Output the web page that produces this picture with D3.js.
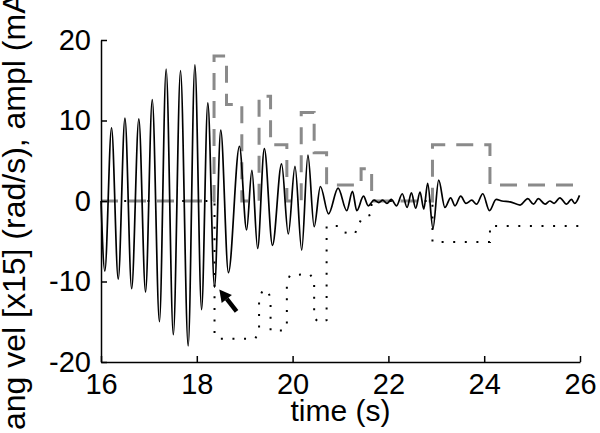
<html>
  <head>
    <title>ang vel</title>
    <script src="https://d3js.org/d3.v7.min.js"></script>
    <style>
      body { margin: 0; background: #fff; }
      text { font-family: "Liberation Sans", Arial, sans-serif; }
    </style>
  </head>
  <body>
    <svg id="chart" width="600" height="433"></svg>
    <script>

    // angular velocity trace (x15), read at peaks/troughs
    const velTime = [16.00, 16.08, 16.22, 16.36, 16.50, 16.64, 16.79, 16.93, 17.07, 17.22,
                     17.36, 17.51, 17.66, 17.82, 17.96, 18.10, 18.23, 18.37, 18.50, 18.66,
                     18.89, 19.04, 19.15, 19.27, 19.41, 19.58, 19.77, 19.91, 20.05, 20.19,
                     20.32, 20.45, 20.58, 20.75, 20.95, 21.13, 21.25, 21.34, 21.48, 21.58,
                     21.70, 21.80, 21.88, 21.97, 22.06, 22.17, 22.29, 22.39, 22.48, 22.57,
                     22.66, 22.74, 22.82, 22.93, 23.05, 23.18, 23.30, 23.39, 23.51, 23.62,
                     23.74, 23.84, 23.97, 24.11, 24.25, 24.37, 24.54, 24.75, 24.91, 25.03,
                     25.13, 25.27, 25.37, 25.46, 25.58, 25.72, 25.82, 25.89, 25.99];
    const velValue = [0, -8.7, 9.1, -9.7, 10.3, -10.9, 10.2, -11.3, 12.6, -15.0,
                      16.4, -16.6, 16.2, -18.0, 16.9, -13.5, 12.2, -10.7, 8.8, -8.9,
                      6.8, -3.6, 3.8, -5.9, 6.5, -5.5, 4.6, -4.1, 4.3, -6.1,
                      5.7, -3.2, 1.8, -1.6, 1.6, -1.2, 1.2, -1.2, 0.6, -0.6,
                      0.1, -0.2, 0.1, -0.3, 0.2, -0.6, 0.9, -0.8, 1.0, -0.9,
                      1.1, -1.0, 2.2, -3.4, 2.6, -0.8, 0.4, -0.6, 0.6, -0.3,
                      0.1, -0.4, 0.9, -1.2, 0.2, 0.0, -0.1, -0.5, 0.3, -0.4,
                      0.3, -0.4, 0.0, -0.3, 0.4, -0.4, 0.2, -0.3, 0.7];

    // stimulation amplitude (mA), step changes
    const ampTime = [16, 18.36, 18.62, 18.94, 19.30, 19.54, 19.88, 20.18, 20.45, 20.71, 21.43, 21.65, 22.92, 24.12, 26];
    const ampValue = [0, 18, 12, 0, 13, 7, 0, 11, 6, 2, 4, 0, 7, 2, 2];

    // dotted trace
    const dotTime = [16.00, 18.37, 18.37, 18.45, 19.22, 19.30, 19.30, 19.38, 19.47, 19.54,
                     19.54, 19.80, 19.88, 19.88, 19.95, 20.36, 20.45, 20.45, 20.55, 20.71,
                     20.71, 20.95, 21.08, 21.30, 21.37, 21.45, 21.64, 21.65, 22.92, 22.92,
                     24.12, 24.12, 26.00];
    const dotValue = [0, 0, -16.6, -17.1, -17.1, -16.2, -12.0, -11.1, -11.1, -12.0,
                      -16.1, -16.1, -15.5, -10.0, -9.2, -9.1, -9.8, -14.5, -15.1, -14.8,
                      -3.1, -3.1, -3.9, -4.1, -3.0, -2.1, -1.7, 0, 0, -5.1,
                      -5.1, -3.1, -3.1];

    const xTicks = [16, 18, 20, 22, 24, 26];
    const xTickLabels = ["16", "18", "20", "22", "24", "26"];
    const yTicks = [-20, -10, 0, 10, 20];
    const yTickLabels = ["-20", "-10", "0", "10", "20"];

    // arrow annotation (tail, tip) in data units
    const arrowTail = [18.83, -13.7];
    const arrowTip = [18.47, -11.0];

    const svg = d3.select("svg#chart");
    const width = +svg.attr("width");
    const height = +svg.attr("height");
    const margins = {"top": 40, "right": 20, "bottom": 71, "left": 101};
    const chartWidth = width - margins.left - margins.right;
    const chartHeight = height - margins.top - margins.bottom;

    const xScale = d3.scaleLinear().domain([16, 26]).range([0, chartWidth]);
    const yScale = d3.scaleLinear().domain([-20, 20]).range([chartHeight, 0]);

    let plot = svg.append("g")
                  .attr("transform", "translate(" + margins.left + "," + margins.top + ")");

    const zip = (ts, vs) => ts.map((t, i) => ({t: t, v: vs[i]}));

    // dotted line
    let dotLine = d3.line().x(d => xScale(d.t)).y(d => yScale(d.v));
    plot.append("path")
        .datum(zip(dotTime, dotValue))
        .attr("fill", "none")
        .attr("stroke", "#000")
        .attr("stroke-width", 2)
        .attr("stroke-dasharray", "2,9.6")
        .attr("d", dotLine);

    // dashed amplitude steps
    let stepLine = d3.line().x(d => xScale(d.t)).y(d => yScale(d.v)).curve(d3.curveStepAfter);
    plot.append("path")
        .datum(zip(ampTime, ampValue))
        .attr("fill", "none")
        .attr("stroke", "#8a8a8a")
        .attr("stroke-width", 3)
        .attr("stroke-dasharray", "17,11")
        .attr("d", stepLine);

    // solid velocity trace
    let velLine = d3.line().x(d => xScale(d.t)).y(d => yScale(d.v)).curve(d3.curveMonotoneX);
    plot.append("path")
        .datum(zip(velTime, velValue))
        .attr("fill", "none")
        .attr("stroke", "#000")
        .attr("stroke-width", 1.7)
        .attr("d", velLine);

    // arrow
    const ax0 = xScale(arrowTail[0]), ay0 = yScale(arrowTail[1]);
    const ax1 = xScale(arrowTip[0]), ay1 = yScale(arrowTip[1]);
    const ang = Math.atan2(ay1 - ay0, ax1 - ax0);
    const headLen = 12, headW = 6.5;
    const bx = ax1 - headLen * Math.cos(ang), by = ay1 - headLen * Math.sin(ang);
    plot.append("line")
        .attr("x1", ax0).attr("y1", ay0).attr("x2", bx).attr("y2", by)
        .attr("stroke", "#000").attr("stroke-width", 4.5);
    plot.append("polygon")
        .attr("points", [
          [ax1, ay1],
          [bx + headW * Math.sin(ang), by - headW * Math.cos(ang)],
          [bx - headW * Math.sin(ang), by + headW * Math.cos(ang)]
        ].map(p => p.join(",")).join(" "))
        .attr("fill", "#000");

    // axes
    let leftAxis = d3.axisLeft(yScale)
                     .tickValues(yTicks)
                     .tickFormat((d, i) => yTickLabels[i])
                     .tickSizeInner(-6)
                     .tickSizeOuter(0)
                     .tickPadding(10);
    let bottomAxis = d3.axisBottom(xScale)
                       .tickValues(xTicks)
                       .tickFormat((d, i) => xTickLabels[i])
                       .tickSizeInner(-6)
                       .tickSizeOuter(0)
                       .tickPadding(11);

    let yAxisG = plot.append("g").attr("class", "y axis").call(leftAxis);
    let xAxisG = plot.append("g").attr("class", "x axis")
                     .attr("transform", "translate(0," + chartHeight + ")")
                     .call(bottomAxis);

    [yAxisG, xAxisG].forEach(g => {
      g.attr("font-family", null).attr("font-size", null);
      g.selectAll("path.domain").attr("stroke-width", 1.5);
      g.selectAll(".tick line").attr("stroke-width", 1.5);
      g.selectAll(".tick text")
       .style("font-family", "'Liberation Sans', Arial, sans-serif")
       .style("font-size", "29px")
       .attr("fill", "#000");
    });

    // labels
    svg.append("text")
       .attr("x", margins.left + chartWidth / 2)
       .attr("y", 421)
       .attr("text-anchor", "middle")
       .style("font-size", "30px")
       .text("time (s)");

    svg.append("text")
       .attr("transform", "translate(25,430) rotate(-90)")
       .attr("text-anchor", "start")
       .style("font-size", "32px")
       .text("ang vel [x15] (rad/s), ampl (mA)");

    </script>
  </body>
</html>
